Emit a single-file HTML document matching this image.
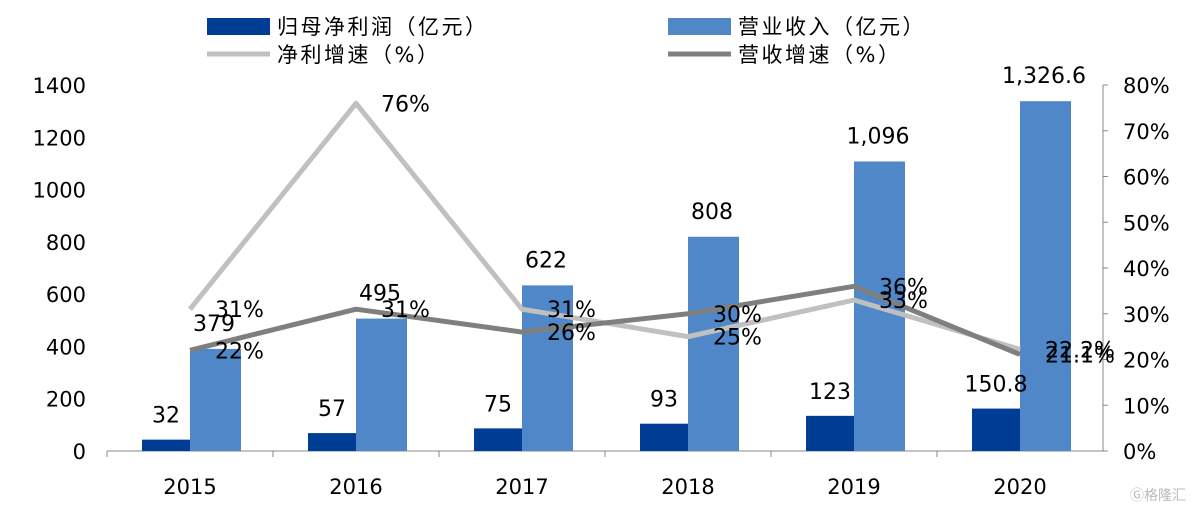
<!DOCTYPE html>
<html><head><meta charset="utf-8"><style>
body{margin:0;background:#fff;}
svg text{font-family:"DejaVu Sans","Liberation Sans","Noto Sans CJK SC",sans-serif;}
.lg{letter-spacing:2.5px;}
</style></head><body>
<svg id="chart" width="1198" height="509" xmlns="http://www.w3.org/2000/svg">
<g>
<rect x="207" y="18" width="63" height="17" fill="#003E96"/>
<text class="lg" x="277" y="34" font-size="21" fill="#000">归母净利润（亿元）</text>
<rect x="668" y="18" width="63" height="17" fill="#4F87C8"/>
<text class="lg" x="738" y="34" font-size="21" fill="#000">营业收入（亿元）</text>
<line x1="207" y1="54" x2="270" y2="54" stroke="#C0C0C0" stroke-width="5"/>
<text class="lg" x="277" y="62" font-size="21" fill="#000">净利增速（%）</text>
<line x1="668" y1="54" x2="731" y2="54" stroke="#7F7F7F" stroke-width="5"/>
<text class="lg" x="738" y="62" font-size="21" fill="#000">营收增速（%）</text>
</g>
<g id="plot"></g>
<text x="1130" y="500" font-size="14" fill="#bbb">Ⓖ格隆汇</text>
</svg>
<script>
const categories=["2015","2016","2017","2018","2019","2020"];
const netProfit=[32,57,75,93,123,150.8];
const netProfitLabels=["32","57","75","93","123","150.8"];
const revenue=[379,495,622,808,1096,1326.6];
const revenueLabels=["379","495","622","808","1,096","1,326.6"];
const netGrowth=[31,76,31,25,33,22.2];
const netGrowthLabels=["31%","76%","31%","25%","33%","22.2%"];
const revGrowth=[22,31,26,30,36,21.1];
const revGrowthLabels=["22%","31%","26%","30%","36%","21.1%"];
const leftTicks=[0,200,400,600,800,1000,1200,1400];
const rightTicks=[0,10,20,30,40,50,60,70,80];

const NS="http://www.w3.org/2000/svg";
const g=document.getElementById('plot');
const X0=107,X1=1103,Y0=451,Y1=85;
const step=(X1-X0)/categories.length;
const xc=i=>X0+step*(i+0.5);
const yL=v=>Y0-(v/1400)*(Y0-Y1);
const yR=v=>Y0-(v/80)*(Y0-Y1);
function el(tag,attrs,text){const e=document.createElementNS(NS,tag);for(const k in attrs)e.setAttribute(k,attrs[k]);if(text!==undefined)e.textContent=text;g.appendChild(e);return e;}

let a=el('line',{x1:X0,y1:Y0,x2:X1,y2:Y0,stroke:'#888','stroke-width':1});


a=el('line',{x1:X1,y1:Y1,x2:X1,y2:Y0,stroke:'#888','stroke-width':1});


leftTicks.forEach(v=>{
  const t=el('text',{x:86,y:yL(v)+8,'font-size':21,'text-anchor':'end'},String(v));
  
  
});
rightTicks.forEach(v=>{
  const tk=el('line',{x1:X1,y1:yR(v),x2:X1+5,y2:yR(v),stroke:'#888'});
  
  
  const t=el('text',{x:1123,y:yR(v)+8,'font-size':21},v+'%');
  
  
});
categories.forEach((c,i)=>{
  const t=el('text',{x:xc(i),y:494,'font-size':21,'text-anchor':'middle'},c);
  
  
  const tk=el('line',{x1:X0+step*i,y1:Y0,x2:X0+step*i,y2:Y0+6,stroke:'#888'});
  
  
});
const BW=48;
categories.forEach((c,i)=>{
  const b1=el('rect',{x:xc(i)-BW,y:yL(netProfit[i])-3,width:BW,height:Y0-yL(netProfit[i])+3,fill:'#003E96'});
  
  
  const b2=el('rect',{x:xc(i),y:yL(revenue[i])-3,width:BW+3,height:Y0-yL(revenue[i])+3,fill:'#4F87C8'});
  
  
  const l1=el('text',{x:xc(i)-BW/2,y:yL(netProfit[i])-20,'font-size':22,'text-anchor':'middle'},netProfitLabels[i]);
  
  
  const l2=el('text',{x:xc(i)+BW/2,y:yL(revenue[i])-21,'font-size':22,'text-anchor':'middle'},revenueLabels[i]);
  
  
});
function line(vals,color,name){
  const p=el('polyline',{points:vals.map((v,i)=>xc(i)+','+yR(v)).join(' '),fill:'none',stroke:color,'stroke-width':5,'stroke-linejoin':'round'});
  
  
}
line(netGrowth,'#C0C0C0','line-net-growth');
line(revGrowth,'#7F7F7F','line-revenue-growth');
categories.forEach((c,i)=>{
  const t1=el('text',{x:xc(i)+25,y:yR(netGrowth[i])+8,'font-size':22},netGrowthLabels[i]);
  
  
  const t2=el('text',{x:xc(i)+25,y:yR(revGrowth[i])+8,'font-size':22},revGrowthLabels[i]);
  
  
});
</script>
</body></html>
